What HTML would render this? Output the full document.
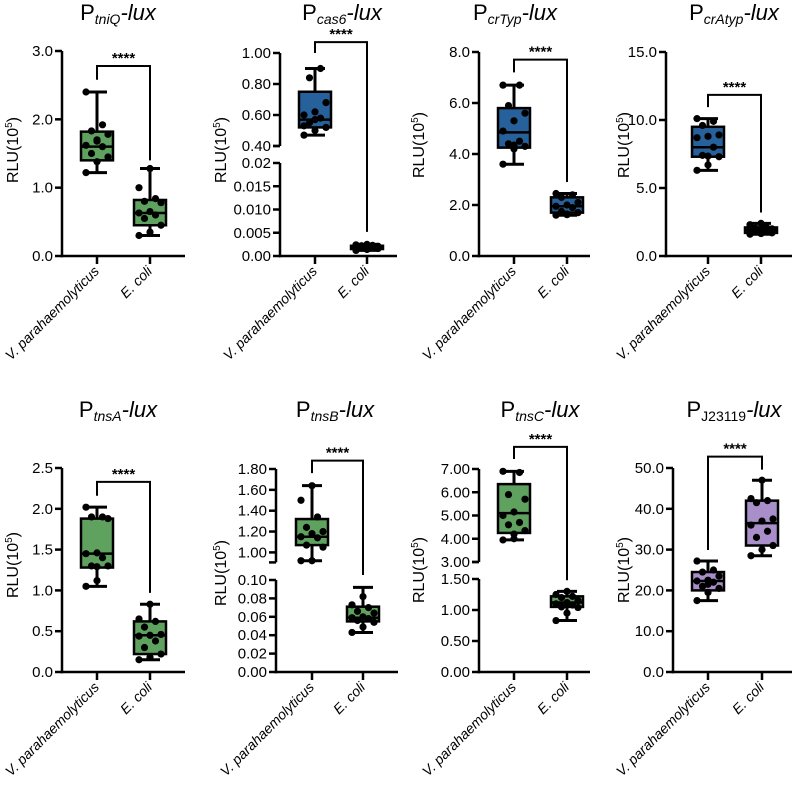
<!DOCTYPE html>
<html><head><meta charset="utf-8"><style>
html,body{margin:0;padding:0;background:#fff}
svg{display:block;font-family:"Liberation Sans",Arial,sans-serif}
</style></head><body>
<svg id="fig" width="797" height="790" viewBox="0 0 797 790" xmlns="http://www.w3.org/2000/svg"></svg>
<script>
// ---- data ----
const categories = ["V. parahaemolyticus", "E. coli"];
const titles = [["tniQ",true],["cas6",true],["crTyp",true],["crAtyp",true],["tnsA",true],["tnsB",true],["tnsC",true],["J23119",false]];
// box stats [min,q1,median,q3,max] per panel: [VP, Ecoli]
const boxStats = [
 [[1.22,1.40,1.60,1.82,2.40],[0.30,0.45,0.63,0.82,1.28]],
 [[0.47,0.52,0.57,0.75,0.90],[0.0012,0.0015,0.0018,0.0022,0.0025]],
 [[3.60,4.25,4.85,5.80,6.70],[1.60,1.70,1.95,2.30,2.45]],
 [[6.30,7.30,8.00,9.50,10.10],[1.60,1.70,1.90,2.10,2.40]],
 [[1.05,1.28,1.45,1.88,2.02],[0.15,0.22,0.45,0.62,0.83]],
 [[0.92,1.07,1.15,1.32,1.64],[0.043,0.055,0.059,0.071,0.092]],
 [[3.95,4.25,5.10,6.35,6.90],[0.83,1.05,1.12,1.22,1.30]],
 [[17.5,20.0,22.3,24.5,27.2],[28.5,31.0,36.5,42.0,47.0]]
];
const pointsVP = [
 [1.22,1.38,1.45,1.50,1.60,1.62,1.70,1.78,1.83,1.92,2.40,1.68],
 [0.47,0.50,0.52,0.55,0.58,0.60,0.62,0.68,0.84,0.90,0.53,0.57],
 [3.60,4.20,4.30,4.40,4.50,4.90,5.30,5.60,5.90,6.70,6.70,4.35],
 [6.30,6.70,7.30,7.40,8.00,8.70,8.80,8.90,9.60,9.90,10.10,7.35],
 [1.05,1.12,1.30,1.30,1.40,1.45,1.46,1.88,1.90,1.90,2.02,1.29],
 [0.92,0.92,1.05,1.07,1.14,1.15,1.18,1.20,1.24,1.34,1.50,1.64],
 [3.95,4.00,4.35,4.60,4.70,5.00,5.15,5.70,5.90,6.85,6.90,4.20],
 [17.5,19.5,20.5,21.0,22.0,22.3,22.5,23.5,24.5,25.0,27.2,21.5]
];
const pointsEC = [
 [0.30,0.35,0.45,0.55,0.60,0.63,0.65,0.78,0.80,0.84,1.00,1.28],
 [0.0012,0.0014,0.0016,0.0017,0.0018,0.0019,0.0020,0.0021,0.0022,0.0023,0.0024,0.0025],
 [1.60,1.65,1.70,1.75,1.90,1.95,2.00,2.10,2.30,2.40,2.45,1.62],
 [1.60,1.65,1.70,1.80,1.85,1.90,1.95,2.00,2.05,2.10,2.30,2.40],
 [0.15,0.18,0.22,0.30,0.38,0.44,0.45,0.46,0.55,0.62,0.65,0.83],
 [0.043,0.049,0.054,0.056,0.058,0.059,0.060,0.064,0.066,0.070,0.073,0.082],
 [0.83,0.95,1.04,1.05,1.08,1.10,1.12,1.15,1.20,1.22,1.25,1.30],
 [28.5,30.0,31.0,33.0,34.5,36.0,37.0,37.5,41.5,42.0,42.5,47.0]
];
// bracket [top, VP leg end, Ecoli leg end]
const brackets = [[2.78,2.58,1.40],[1.07,1.00,0.0052],[7.7,7.2,2.9],[11.85,10.95,3.2],[2.33,2.16,0.97],[1.88,1.76,0.1054],[7.95,7.43,1.48],[52.8,29.9,49.6]];
// axis segments [vmin,vmax] and tick labels
const segRanges = [
 [[0,3.0]],
 [[0,0.02],[0.40,1.00]],
 [[0,8.0]],
 [[0,15.0]],
 [[0,2.5]],
 [[0,0.10],[0.904,1.80]],
 [[0,1.50],[3.00,7.00]],
 [[0,50.0]]
];
const tickLabels = [
 [["0.0","1.0","2.0","3.0"]],
 [["0.00","0.005","0.010","0.015","0.02"],["0.40","0.60","0.80","1.00"]],
 [["0.0","2.0","4.0","6.0","8.0"]],
 [["0.0","5.0","10.0","15.0"]],
 [["0.0","0.5","1.0","1.5","2.0","2.5"]],
 [["0.00","0.02","0.04","0.06","0.08","0.10"],["1.00","1.20","1.40","1.60","1.80"]],
 [["0.00","0.50","1.00","1.50"],["3.00","4.00","5.00","6.00","7.00"]],
 [["0.0","10.0","20.0","30.0","40.0","50.0"]]
];
// ---- layout (pixels) ----
const layout = [
 {ax:62,x1:185,c:[97,150],base:256,segPx:[[256,51]],title:[118,12],yt:[12,150],col:["#5fa25f","#5fa25f"]},
 {ax:280,x1:397,c:[315,367],base:256,segPx:[[256,163],[146,53]],title:[342,12],yt:[220,150],col:["#26619c","#26619c"]},
 {ax:479,x1:590,c:[514,567],base:256,segPx:[[256,52]],title:[515,12],yt:[418,145],col:["#26619c","#26619c"]},
 {ax:666,x1:792,c:[708,761],base:256,segPx:[[256,52]],title:[734,12],yt:[623,145],col:["#26619c","#26619c"]},
 {ax:62,x1:185,c:[97,150],base:672,segPx:[[672,468]],title:[118,409],yt:[12,565],col:["#5fa25f","#5fa25f"]},
 {ax:276,x1:398,c:[312,363],base:672,segPx:[[672,580],[562.4,469]],title:[335,409],yt:[220,573],col:["#5fa25f","#5fa25f"]},
 {ax:479,x1:590,c:[514,567],base:672,segPx:[[672,579],[562,469]],title:[540,409],yt:[418,570],col:["#5fa25f","#5fa25f"]},
 {ax:673,x1:792,c:[708,762],base:672,segPx:[[672,468]],title:[734,409],yt:[623,570],col:["#a98fc9","#a98fc9"]}
];
const NS="http://www.w3.org/2000/svg";
const svg=document.getElementById('fig');
function mk(tag,attrs,parent){const e=document.createElementNS(NS,tag);for(const k in attrs)e.setAttribute(k,attrs[k]);(parent||svg).appendChild(e);return e;}
function scaleFor(p){
  const L=layout[p],S=segRanges[p];
  return function(v){
    let si=0;
    for(let i=0;i<S.length;i++){ if(v>=S[i][0]-1e-9) si=i; }
    const [a,b]=S[si],[y0,y1]=L.segPx[si];
    return y0+(v-a)/(b-a)*(y1-y0);
  };
}
for(let p=0;p<8;p++){
  const L=layout[p],y=scaleFor(p);
  const g=mk('g',{});
  
  
  const t=mk('text',{x:L.title[0],y:L.title[1]+8,'text-anchor':'middle','font-size':22},g);
  
  
  t.innerHTML='P<tspan font-size="14" dy="4" '+(titles[p][1]?'font-style="italic"':'')+'>'+titles[p][0]+'</tspan><tspan dy="-4" font-style="italic">-lux</tspan>';
  const yt=mk('text',{x:0,y:0,transform:'translate('+(L.yt[0]+6)+','+L.yt[1]+') rotate(-90)','text-anchor':'middle','font-size':16},g);
  
  
  yt.innerHTML='RLU(10<tspan font-size="10" dy="-6">5</tspan><tspan dy="6">)</tspan>';
  for(let s=0;s<segRanges[p].length;s++){
    const [y0,y1]=L.segPx[s];
    const ln=mk('line',{x1:L.ax,x2:L.ax,y1:y0+(s==0?1.25:0),y2:y1,stroke:'#000','stroke-width':2.5},g);
    
    
    if(s>0){mk('line',{x1:L.ax-7,x2:L.ax,y1:y0,y2:y0,stroke:'#000','stroke-width':2.5},g);}
    const labs=tickLabels[p][s];
    labs.forEach(lab=>{
      const v=parseFloat(lab); const yy=y(v);
      mk('line',{x1:L.ax-7,x2:L.ax,y1:yy,y2:yy,stroke:'#000','stroke-width':2.5},g);
      const tx=mk('text',{x:L.ax-9,y:yy+5,'text-anchor':'end','font-size':15},g);
      
      
      tx.textContent=lab;
    });
  }
  const xa=mk('line',{x1:L.ax-1.25,x2:L.x1,y1:L.base,y2:L.base,stroke:'#000','stroke-width':2.5},g);
  
  
  categories.forEach((c,i)=>{
    const cx=L.c[i];
    mk('line',{x1:cx,x2:cx,y1:L.base,y2:L.base+8,stroke:'#000','stroke-width':2.5},g);
    const tx=mk('text',{x:0,y:0,transform:'translate('+(cx+3)+','+(L.base+16)+') rotate(-45)','text-anchor':'end','font-size':14,'font-style':'italic'},g);
    
    
    tx.textContent=c;
    const st=boxStats[p][i];
    const wl=mk('line',{x1:cx,x2:cx,y1:y(st[0]),y2:y(st[4]),stroke:'#000','stroke-width':3},g);
    
    
    [st[0],st[4]].forEach(v=>mk('line',{x1:cx-10,x2:cx+10,y1:y(v),y2:y(v),stroke:'#000','stroke-width':3},g));
    const bx=mk('rect',{x:cx-16,y:y(st[3]),width:32,height:Math.max(1,y(st[1])-y(st[3])),fill:L.col[i],stroke:'#000','stroke-width':2.5},g);
    
    
    mk('line',{x1:cx-16,x2:cx+16,y1:y(st[2]),y2:y(st[2]),stroke:'#000','stroke-width':2.5},g);
    const pts=(i==0?pointsVP:pointsEC)[p];
    pts.forEach((v,k)=>{
      const off=((k*7)%5-2)*5.5;
      const d=mk('circle',{cx:cx+off,cy:y(v),r:3.6,fill:'#000'},g);
      
      
    });
  });
  const br=brackets[p],yt0=y(br[0]);
  const bp=mk('polyline',{points:L.c[0]+','+y(br[1])+' '+L.c[0]+','+yt0+' '+L.c[1]+','+yt0+' '+L.c[1]+','+y(br[2]),fill:'none',stroke:'#000','stroke-width':2},g);
  
  
  const sg=mk('text',{x:(L.c[0]+L.c[1])/2,y:yt0-3,'text-anchor':'middle','font-size':15,'font-weight':'bold'},g);
  
  
  sg.textContent='****';
}
</script>
</body></html>
